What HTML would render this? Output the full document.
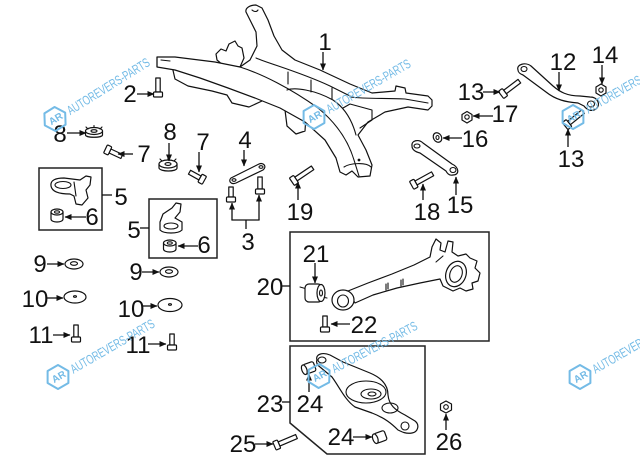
<!DOCTYPE html>
<html><head><meta charset="utf-8">
<style>
html,body{margin:0;padding:0;background:#fff;}
svg{display:block}
.p{fill:#fff;stroke:#111;stroke-width:1.2;stroke-linejoin:round;stroke-linecap:round}
.l{fill:none;stroke:#111;stroke-width:1.1;stroke-linecap:round;stroke-linejoin:round}
.a{fill:none;stroke:#111;stroke-width:1.3}
.t{font-family:"Liberation Sans",Arial,sans-serif;font-size:24px;fill:#111;text-anchor:middle}
.box{fill:none;stroke:#222;stroke-width:1.5}
.wm{fill:none;stroke:#74bbe6;stroke-width:2;stroke-linejoin:round}
.wt{font-family:"Liberation Sans",Arial,sans-serif;font-size:13px;fill:#74bbe6}
.wa{font-family:"Liberation Sans",Arial,sans-serif;font-size:10px;fill:#74bbe6;font-weight:bold}
</style></head><body>
<svg width="640" height="471" viewBox="0 0 640 471">
<defs>
<marker id="ah" markerUnits="userSpaceOnUse" markerWidth="7" markerHeight="6" refX="6.5" refY="3" orient="auto"><path d="M0,0 L7,3 L0,6 Z" fill="#111"/></marker>
</defs>

<!-- ===== SUBFRAME (1) ===== -->
<path class="p" d="M172,66 L175,79 L188,86 L212,91 L227,95 L232,103 L249,107 L262,101 L262,92 Z"/>
<path class="p" d="M216,54 L221,49 L226,51 L229,44 L235,41 L238,46 L242,48 L244,58 L240,67 L224,66 L217,60 Z"/>
<path class="p" d="M285,110 L287,126 L296,134 L305,131 L306,116 Z"/>
<path class="p" d="M157,57 L175,57 L215,62 L240,67 L250,60 L257,46 L256,32 L250,20 L246,12 C245,8 250,5 256,5 L262,8 L268,20 L274,36 L282,50 L295,60 L320,70 L350,84 L372,93 L395,91 L396,86 L405,88 L406,93 L428,96 L432,100 L432,106 L428,110 L408,107 L385,112 L368,122 L358,135 L366,150 L372,165 L370,176 L358,177 L352,171 L346,175 L340,172 L336,158 L325,140 L305,122 L280,108 L255,98 L228,88 L200,78 L175,70 L157,67 Z"/>
<path class="l" d="M157,57 L157,67 M161,60 L170,61"/>
<path class="l" d="M240,67 C262,74 290,88 318,108 C335,122 348,140 354,160 L359,176"/>
<path class="l" d="M256,58 C270,64 300,72 330,86 L350,96"/>
<path class="l" d="M350,97 C365,99 385,98 405,99 L428,103"/>
<path class="l" d="M287,90 C295,87 315,90 333,100 C345,108 352,120 356,135"/>
<path class="l" d="M288,72 L288,84 M311,80 L311,92 M332,88 L332,99"/>
<path class="l" d="M343,108 L350,104 L372,110 L372,120 L360,128"/>
<path class="l" d="M344,167 C350,163 366,162 371,167"/>
<circle cx="359" cy="160" r="1.4" fill="#111"/>
<path class="l" d="M252,10 C254,12 257,12 258,10"/>

<!-- bolt 2 -->
<g transform="translate(158,92) rotate(-90)"><rect class="p" x="0" y="-2.2" width="14" height="4.4"/><rect class="p" x="-5" y="-4.5" width="5" height="9" rx="1"/></g>

<!-- nut 8 left -->
<path class="p" d="M85.5,131 L85.5,135 C86,138 102,138 102.5,135 L102.5,131"/>
<ellipse class="p" cx="94" cy="131" rx="8.5" ry="3.5"/>
<ellipse class="l" cx="94" cy="131" rx="3" ry="1.3"/>
<path class="l" d="M88,129 L86,127 M94,127.5 L94,125.5 M100,129 L102,127"/>
<!-- nut 8 mid -->
<path class="p" d="M159,164 L159,168 C160,172 177,172 177,168 L177,164"/>
<ellipse class="p" cx="168" cy="164" rx="9" ry="4"/>
<ellipse class="l" cx="168" cy="164" rx="3" ry="1.4"/>
<path class="l" d="M162,161 L160,159 M168,160 L168,158 M174,161 L176,159"/>

<!-- bolt 7 left, 7 mid -->
<g transform="translate(110,151) rotate(25)"><rect class="p" x="0" y="-2.2" width="13" height="4.4"/><rect class="p" x="-5" y="-4.5" width="5" height="9" rx="1"/></g>
<g transform="translate(200,178) rotate(-151)"><rect class="p" x="0" y="-2.2" width="12" height="4.4"/><rect class="p" x="-5" y="-4.5" width="5" height="9" rx="1"/></g>

<!-- bracket 4 -->
<path class="p" d="M231,178 L259,164 C264,162 267,167 263,170 L236,183 C231,185 228,181 231,178 Z"/>
<ellipse class="l" cx="234" cy="180" rx="2" ry="1.3"/><ellipse class="l" cx="261" cy="167" rx="2" ry="1.3"/>
<g transform="translate(231,197) rotate(-90)"><rect class="p" x="0" y="-2.2" width="10" height="4.4"/><rect class="p" x="-5" y="-4.5" width="5" height="9" rx="1"/></g>
<g transform="translate(260,189) rotate(-90)"><rect class="p" x="0" y="-2.2" width="12" height="4.4"/><rect class="p" x="-5" y="-4.5" width="5" height="9" rx="1"/></g>

<!-- bolt 19 -->
<g transform="translate(296,179) rotate(-34)"><rect class="p" x="0" y="-2.2" width="20" height="4.4"/><rect class="p" x="-5" y="-4.5" width="5" height="9" rx="1"/></g>

<!-- box 1 (5,6) -->
<rect class="box" x="39" y="168" width="63" height="62"/>
<path class="p" d="M51,186 C50,180 56,178 64,178 L80,180 L86,176 L91,177 L90,185 L86,190 L88,198 L82,205 L76,204 L74,196 L70,194 C60,194 52,192 51,186 Z"/>
<ellipse class="l" cx="63" cy="185" rx="8" ry="3.5"/>
<path class="l" d="M74,182 L76,196"/>
<path class="p" d="M51,212 L51,219 C51,223 63,223 63,219 L63,212"/>
<ellipse class="p" cx="57" cy="212" rx="6" ry="3"/><ellipse class="l" cx="57" cy="212" rx="2.5" ry="1.2"/>

<!-- box 2 (5,6) -->
<rect class="box" x="149" y="199" width="68" height="59"/>
<path class="p" d="M160,222 L163,214 L172,208 L176,203 L181,204 L180,212 L175,218 L182,222 L182,230 C178,234 164,234 160,230 Z"/>
<ellipse class="l" cx="171" cy="226" rx="7" ry="3"/>
<path class="p" d="M163.5,243 L163.5,249 C163.5,253 176,253 176,249 L176,243"/>
<ellipse class="p" cx="169.8" cy="243" rx="6.3" ry="3"/><ellipse class="l" cx="169.8" cy="243" rx="2.5" ry="1.2"/>

<!-- washers 9,10 / bolts 11 -->
<ellipse class="p" cx="74" cy="264" rx="9" ry="5"/><ellipse class="l" cx="74" cy="263.5" rx="3.5" ry="1.8"/>
<ellipse class="p" cx="75" cy="297" rx="11" ry="6"/><ellipse class="l" cx="75" cy="296.5" rx="1.5" ry="0.8"/>
<g transform="translate(76,337) rotate(-90)"><rect class="p" x="0" y="-2.2" width="12" height="4.4"/><rect class="p" x="-5" y="-4.5" width="5" height="9" rx="1"/></g>
<ellipse class="p" cx="169" cy="272" rx="9" ry="5"/><ellipse class="l" cx="169" cy="271.5" rx="3.5" ry="1.8"/>
<ellipse class="p" cx="170" cy="305" rx="12" ry="6.5"/><ellipse class="l" cx="170" cy="304.5" rx="1.5" ry="0.8"/>
<g transform="translate(172,345) rotate(-90)"><rect class="p" x="0" y="-2.2" width="11" height="4.4"/><rect class="p" x="-5" y="-4.5" width="5" height="9" rx="1"/></g>

<!-- box 20 -->
<rect class="box" x="290" y="232" width="199" height="109"/>
<!-- bushing 21 -->
<path class="l" d="M300,287 L307,289 M322,297 L327,298"/>
<rect class="p" x="305" y="284" width="17" height="18" rx="4"/>
<ellipse class="p" cx="321" cy="293" rx="4" ry="8.5"/><ellipse class="l" cx="321" cy="293" rx="1.5" ry="3"/>
<!-- arm 20 -->
<path class="p" d="M348,291 L368,283 L392,274 L414,265 L430,257 L432,247 L436,239 L441,243 L440,250 L445,252 L448,241 L453,242 L452,252 L458,256 L466,254 L470,258 L477,261 L475,268 L480,273 L478,281 L472,283 L473,289 L466,291 L460,288 L453,291 L443,286 L440,279 L420,283 L397,288 L373,295 L355,303 Z"/>
<ellipse class="p" cx="343" cy="300" rx="11" ry="10"/><ellipse class="l" cx="343" cy="301" rx="5.5" ry="6"/>
<ellipse class="p" cx="456" cy="274" rx="10" ry="13" transform="rotate(20 456 274)"/>
<ellipse class="l" cx="456" cy="274" rx="6" ry="8.5" transform="rotate(20 456 274)"/>
<path class="l" d="M386,284 L386,290 M388,283 L388,289 M401,280 L401,286 M403,279 L403,285 M436,262 L443,256"/>
<!-- bolt 22 -->
<g transform="translate(325,327) rotate(-90)"><rect class="p" x="0" y="-2.2" width="11" height="4.4"/><rect class="p" x="-5" y="-4.5" width="5" height="9" rx="1"/></g>

<!-- box 23 -->
<path class="box" d="M290,346 L425,346 L425,454 L327,454 L290,423 Z"/>
<path class="p" d="M317,360 C315,354 323,352 330,355 L343,362 L370,373 C382,378 388,385 388,395 C389,405 395,410 405,415 L415,421 C420,425 418,432 412,433 C406,434 402,432 398,430 C392,424 385,418 372,413 L355,407 C345,400 340,388 332,377 L320,367 C317,365 316,362 317,360 Z"/>
<ellipse class="l" cx="366" cy="392" rx="20" ry="11"/><ellipse class="l" cx="371" cy="394" rx="10" ry="5"/><ellipse class="l" cx="372" cy="394" rx="4" ry="2"/>
<ellipse class="l" cx="390" cy="408" rx="8" ry="5"/>
<ellipse class="l" cx="405" cy="426" rx="4" ry="4"/><ellipse class="l" cx="322" cy="360" rx="4" ry="3"/>
<!-- bushings 24 -->
<g transform="translate(309,368) rotate(-20)"><rect class="p" x="-5" y="-5" width="11" height="10" rx="2"/><ellipse class="p" cx="-5" cy="0" rx="2.5" ry="5"/></g>
<g transform="translate(380,437) rotate(-20)"><rect class="p" x="-5" y="-5" width="11" height="10" rx="2"/><ellipse class="p" cx="-5" cy="0" rx="2.5" ry="5"/></g>
<!-- bolt 25 -->
<g transform="translate(279,444) rotate(-23)"><rect class="p" x="0" y="-2.2" width="19" height="4.4"/><rect class="p" x="-5" y="-4.5" width="5" height="9" rx="1"/></g>
<!-- nut 26 -->
<polygon class="p" points="446,401 451.5,404 451.5,410 446,413 440.5,410 440.5,404"/><circle class="l" cx="446" cy="407" r="2.3"/>

<!-- arm 12 -->
<path class="p" d="M518,70 C516,64 526,62 531,66 L553,86 C560,92 567,96 580,96 L590,97 C598,97 601,105 596,109 C592,112 587,110 584,106 L578,103 C566,102 556,100 546,92 L523,75 C520,74 518,72 518,70 Z"/>
<ellipse class="l" cx="524" cy="69" rx="3" ry="2.5"/><ellipse class="l" cx="591" cy="104" rx="3.5" ry="3"/>
<!-- bolt 13 a, b -->
<g transform="translate(505,92) rotate(-37)"><rect class="p" x="0" y="-2.2" width="18" height="4.4"/><rect class="p" x="-5" y="-4.5" width="5" height="9" rx="1"/></g>
<g transform="translate(569,123) rotate(-39)"><rect class="p" x="0" y="-2.2" width="18" height="4.4"/><rect class="p" x="-5" y="-4.5" width="5" height="9" rx="1"/></g>
<!-- nut 14, 17 -->
<polygon class="p" points="601,84 606,87 606,93 601,96 596,93 596,87"/><circle class="l" cx="601" cy="90" r="2.2"/>
<polygon class="p" points="467,111.5 472,114.5 472,120 467,123 462,120 462,114.5"/><circle class="l" cx="467" cy="117" r="2.2"/>
<!-- washer 16 -->
<ellipse class="p" cx="437.5" cy="137.5" rx="4" ry="5" transform="rotate(-30 437.5 137.5)"/><ellipse class="l" cx="437.5" cy="137.5" rx="1.5" ry="2"/>
<!-- arm 15 -->
<path class="p" d="M412,146 C411,140 419,139 423,143 L452,164 C459,167 460,175 453,175 C449,176 447,173 446,171 L420,153 C416,152 412,150 412,146 Z"/>
<ellipse class="l" cx="417" cy="146" rx="3" ry="2"/><ellipse class="l" cx="453" cy="170" rx="3" ry="2.5"/>
<!-- bolt 18 -->
<g transform="translate(416,183) rotate(-29)"><rect class="p" x="0" y="-2.2" width="19" height="4.4"/><rect class="p" x="-5" y="-4.5" width="5" height="9" rx="1"/></g>

<!-- ===== ARROWS / LEADERS ===== -->
<g>
<line class="a" x1="323" y1="52" x2="323" y2="70" marker-end="url(#ah)"/>
<line class="a" x1="137" y1="94" x2="154" y2="94" marker-end="url(#ah)"/>
<line class="a" x1="67" y1="133" x2="86" y2="133" marker-end="url(#ah)"/>
<line class="a" x1="133" y1="154" x2="118" y2="154" marker-end="url(#ah)"/>
<line class="a" x1="169" y1="143" x2="169" y2="161" marker-end="url(#ah)"/>
<line class="a" x1="199" y1="152" x2="199" y2="172" marker-end="url(#ah)"/>
<line class="a" x1="244" y1="150" x2="244" y2="166" marker-end="url(#ah)"/>
<line class="a" x1="232" y1="220" x2="232" y2="203" marker-end="url(#ah)"/>
<line class="a" x1="259" y1="220" x2="259" y2="195" marker-end="url(#ah)"/>
<line class="a" x1="231.4" y1="220" x2="259.6" y2="220"/>
<line class="a" x1="246" y1="220" x2="246" y2="229"/>
<line class="a" x1="298" y1="200" x2="298" y2="182" marker-end="url(#ah)"/>
<line class="a" x1="102" y1="195" x2="112" y2="195"/>
<line class="a" x1="86" y1="217" x2="65" y2="217" marker-end="url(#ah)"/>
<line class="a" x1="140" y1="228" x2="149" y2="228"/>
<line class="a" x1="198" y1="246" x2="178" y2="246" marker-end="url(#ah)"/>
<line class="a" x1="47" y1="264" x2="64" y2="264" marker-end="url(#ah)"/>
<line class="a" x1="47" y1="298" x2="63" y2="298" marker-end="url(#ah)"/>
<line class="a" x1="53" y1="335" x2="70" y2="335" marker-end="url(#ah)"/>
<line class="a" x1="142" y1="272" x2="159" y2="272" marker-end="url(#ah)"/>
<line class="a" x1="143" y1="306" x2="157" y2="306" marker-end="url(#ah)"/>
<line class="a" x1="148" y1="344" x2="166" y2="344" marker-end="url(#ah)"/>
<line class="a" x1="282" y1="286" x2="290" y2="286"/>
<line class="a" x1="315" y1="263" x2="315" y2="283" marker-end="url(#ah)"/>
<line class="a" x1="350" y1="324" x2="331" y2="324" marker-end="url(#ah)"/>
<line class="a" x1="282" y1="402" x2="290" y2="402"/>
<line class="a" x1="309" y1="392" x2="309" y2="374" marker-end="url(#ah)"/>
<line class="a" x1="353" y1="437" x2="372" y2="437" marker-end="url(#ah)"/>
<line class="a" x1="255" y1="444" x2="273" y2="444" marker-end="url(#ah)"/>
<line class="a" x1="446" y1="430" x2="446" y2="414" marker-end="url(#ah)"/>
<line class="a" x1="559" y1="72" x2="559" y2="91" marker-end="url(#ah)"/>
<line class="a" x1="602" y1="65" x2="602" y2="84" marker-end="url(#ah)"/>
<line class="a" x1="483" y1="92" x2="500" y2="92" marker-end="url(#ah)"/>
<line class="a" x1="493" y1="116" x2="473" y2="116" marker-end="url(#ah)"/>
<line class="a" x1="462" y1="138" x2="443" y2="138" marker-end="url(#ah)"/>
<line class="a" x1="456" y1="195" x2="456" y2="177" marker-end="url(#ah)"/>
<line class="a" x1="423" y1="200" x2="423" y2="184" marker-end="url(#ah)"/>
<line class="a" x1="568" y1="147" x2="568" y2="129" marker-end="url(#ah)"/>
</g>

<!-- ===== LABELS ===== -->
<g>
<text class="t" x="325" y="50">1</text>
<text class="t" x="130" y="102">2</text>
<text class="t" x="60" y="142">8</text>
<text class="t" x="144" y="162">7</text>
<text class="t" x="170" y="140">8</text>
<text class="t" x="203" y="150">7</text>
<text class="t" x="245" y="148">4</text>
<text class="t" x="248" y="250">3</text>
<text class="t" x="300" y="220">19</text>
<text class="t" x="121" y="205">5</text>
<text class="t" x="92" y="225">6</text>
<text class="t" x="134" y="238">5</text>
<text class="t" x="204" y="253">6</text>
<text class="t" x="40" y="272">9</text>
<text class="t" x="35" y="307">10</text>
<text class="t" x="41" y="343">11</text>
<text class="t" x="136" y="280">9</text>
<text class="t" x="131" y="317">10</text>
<text class="t" x="138" y="353">11</text>
<text class="t" x="270" y="295">20</text>
<text class="t" x="316" y="262">21</text>
<text class="t" x="364" y="333">22</text>
<text class="t" x="270" y="412">23</text>
<text class="t" x="310" y="412">24</text>
<text class="t" x="341" y="445">24</text>
<text class="t" x="243" y="452">25</text>
<text class="t" x="449" y="450">26</text>
<text class="t" x="563" y="70">12</text>
<text class="t" x="605" y="63">14</text>
<text class="t" x="471" y="100">13</text>
<text class="t" x="505" y="122">17</text>
<text class="t" x="475" y="147">16</text>
<text class="t" x="460" y="213">15</text>
<text class="t" x="427" y="220">18</text>
<text class="t" x="571" y="167">13</text>
</g>

<!-- ===== WATERMARKS ===== -->
<g transform="translate(55,119) rotate(-32)">
<polygon class="wm" points="-12,0 -6,-10.4 6,-10.4 12,0 6,10.4 -6,10.4"/>
<text class="wa" x="-6.5" y="3.5">AR</text>
<text class="wt" x="15" y="5" textLength="95" lengthAdjust="spacingAndGlyphs">AUTOREVERS-PARTS</text>
</g>
<g transform="translate(314,117) rotate(-30)">
<polygon class="wm" points="-12,0 -6,-10.4 6,-10.4 12,0 6,10.4 -6,10.4"/>
<text class="wa" x="-6.5" y="3.5">AR</text>
<text class="wt" x="15" y="5" textLength="95" lengthAdjust="spacingAndGlyphs">AUTOREVERS-PARTS</text>
</g>
<g transform="translate(58,377) rotate(-30)">
<polygon class="wm" points="-12,0 -6,-10.4 6,-10.4 12,0 6,10.4 -6,10.4"/>
<text class="wa" x="-6.5" y="3.5">AR</text>
<text class="wt" x="15" y="5" textLength="95" lengthAdjust="spacingAndGlyphs">AUTOREVERS-PARTS</text>
</g>
<g transform="translate(319,376) rotate(-28)">
<polygon class="wm" points="-12,0 -6,-10.4 6,-10.4 12,0 6,10.4 -6,10.4"/>
<text class="wa" x="-6.5" y="3.5">AR</text>
<text class="wt" x="15" y="5" textLength="95" lengthAdjust="spacingAndGlyphs">AUTOREVERS-PARTS</text>
</g>
<g transform="translate(580,377) rotate(-30)">
<polygon class="wm" points="-12,0 -6,-10.4 6,-10.4 12,0 6,10.4 -6,10.4"/>
<text class="wa" x="-6.5" y="3.5">AR</text>
<text class="wt" x="15" y="5" textLength="95" lengthAdjust="spacingAndGlyphs">AUTOREVERS-PARTS</text>
</g>
<g transform="translate(573,117) rotate(-30)">
<polygon class="wm" points="-12,0 -6,-10.4 6,-10.4 12,0 6,10.4 -6,10.4"/>
<text class="wa" x="-6.5" y="3.5">AR</text>
<text class="wt" x="15" y="5" textLength="95" lengthAdjust="spacingAndGlyphs">AUTOREVERS-PARTS</text>
</g>
</svg>
</body></html>
